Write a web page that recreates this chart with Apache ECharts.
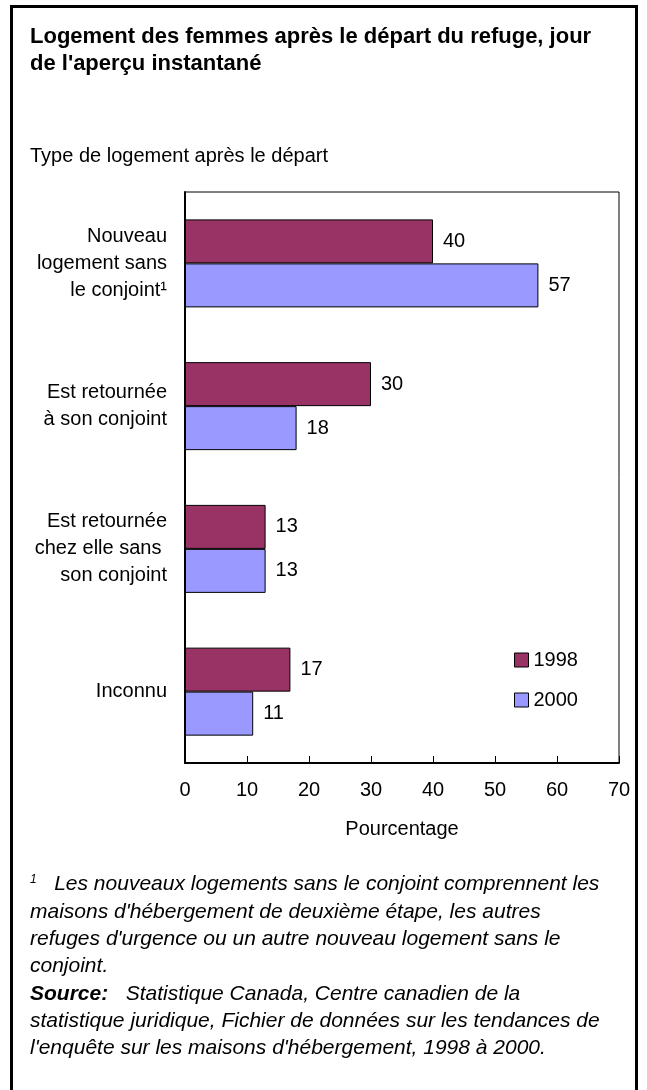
<!DOCTYPE html>
<html>
<head>
<meta charset="utf-8">
<script src="https://cdn.jsdelivr.net/npm/echarts@6/dist/echarts.min.js"></script>
<style>
  html, body { margin: 0; padding: 0; background: #fff; }
  #chart { width: 647px; height: 1090px; }
</style>
</head>
<body>
<div id="chart"></div>
<script>
// données
var categories = [
  "Nouveau\nlogement sans\nle conjoint¹",
  "Est retournée\nà son conjoint",
  "Est retournée\nchez elle sans \nson conjoint",
  "Inconnu"
];
var years = ["1998", "2000"];
var values1998 = [40, 30, 13, 17];
var values2000 = [57, 18, 13, 11];
var xTicks = [0, 70, 10];

var FONT = "Liberation Sans, Arial, Helvetica, sans-serif";

var chart = echarts.init(document.getElementById("chart"));

function barSeries(name, data, color) {
  return {
    name: name,
    type: "bar",
    data: data,
    barWidth: 44,
    barGap: "0%",
    itemStyle: { color: color, borderColor: "#000", borderWidth: 1 },
    label: {
      show: true,
      position: "right",
      distance: 10,
      color: "#000",
      fontFamily: FONT,
      fontSize: 20
    },
    silent: true
  };
}

var option = {
  backgroundColor: "#fff",
  animation: false,
  title: {
    text: "Logement des femmes après le départ du refuge, jour\nde l'aperçu instantané",
    left: 25,
    top: 18,
    textStyle: {
      fontFamily: FONT,
      fontSize: 22,
      fontWeight: "bold",
      color: "#000",
      lineHeight: 27
    }
  },
  legend: {
    orient: "vertical",
    left: 509,
    top: 645,
    itemWidth: 14,
    itemHeight: 14,
    itemGap: 20,
    icon: "rect",
    textStyle: { fontFamily: FONT, fontSize: 20, color: "#000" },
    data: [
      { name: years[0], itemStyle: { color: "#993366", borderColor: "#000", borderWidth: 1 } },
      { name: years[1], itemStyle: { color: "#9999ff", borderColor: "#000", borderWidth: 1 } }
    ]
  },
  grid: {
    left: 185,
    right: 28,
    top: 192,
    bottom: 327,
    show: true,
    borderColor: "#000",
    borderWidth: 1
  },
  xAxis: {
    type: "value",
    min: xTicks[0],
    max: xTicks[1],
    interval: xTicks[2],
    name: "Pourcentage",
    nameLocation: "middle",
    nameGap: 56,
    nameTextStyle: { fontFamily: FONT, fontSize: 20, color: "#000" },
    axisLine: { show: true, lineStyle: { color: "#000", width: 2 } },
    axisTick: { show: true, inside: true, length: 7, lineStyle: { color: "#000", width: 1 } },
    axisLabel: { fontFamily: FONT, fontSize: 20, color: "#000", margin: 17 },
    splitLine: { show: false }
  },
  yAxis: {
    type: "category",
    inverse: true,
    data: categories,
    axisLine: { show: true, lineStyle: { color: "#000", width: 2 } },
    axisTick: { show: false },
    axisLabel: {
      fontFamily: FONT,
      fontSize: 20,
      color: "#000",
      lineHeight: 27,
      align: "right",
      margin: 18
    }
  },
  series: [
    barSeries(years[0], values1998, "#993366"),
    barSeries(years[1], values2000, "#9999ff")
  ],
  graphic: [
    {
      type: "rect",
      shape: { x: 11.5, y: 6.5, width: 625, height: 1200 },
      style: { fill: null, stroke: "#000", lineWidth: 3 },
      silent: true
    },
    {
      type: "text",
      left: 30,
      top: 146,
      style: {
        text: "Type de logement après le départ",
        font: "20px " + FONT,
        fill: "#000"
      }
    },
    {
      type: "text",
      left: 30,
      top: 871,
      style: {
        text: "{sup|1}   Les nouveaux logements sans le conjoint comprennent les\n" +
              "maisons d'hébergement de deuxième étape, les autres\n" +
              "refuges d'urgence ou un autre nouveau logement sans le\n" +
              "conjoint.\n" +
              "{b|Source:}   Statistique Canada, Centre canadien de la\n" +
              "statistique juridique, Fichier de données sur les tendances de\n" +
              "l'enquête sur les maisons d'hébergement, 1998 à 2000.",
        font: "italic 21px " + FONT,
        fill: "#000",
        lineHeight: 27.3,
        rich: {
          sup: { fontSize: 12, fontStyle: "italic", fontFamily: FONT, padding: [0, 0, 10, 0], lineHeight: 27.3 },
          b: { fontSize: 21, fontStyle: "italic", fontWeight: "bold", fontFamily: FONT, lineHeight: 27.3 }
        }
      }
    }
  ]
};

chart.setOption(option);
</script>
</body>
</html>
